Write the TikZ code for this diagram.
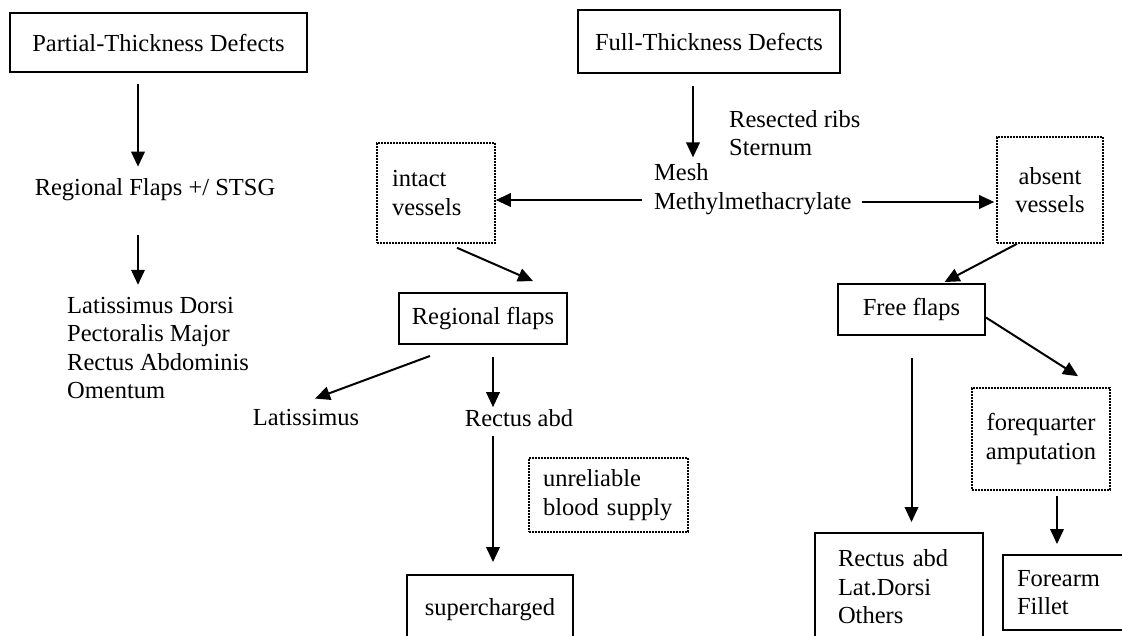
\documentclass[tikz,border=0pt]{standalone}
\usepackage{fontspec}
\setmainfont{Liberation Serif}
\usetikzlibrary{arrows.meta}

\begin{document}
\begin{tikzpicture}[x=1pt, y=-1pt,
    every node/.style={font=\fontsize{24.5}{28.5}\selectfont, inner sep=2pt},
    solidbox/.style={draw, line width=1.9pt, inner sep=0pt, align=center},
    dotbox/.style={draw, line width=1.6pt, dash pattern=on 1.6pt off 1.4pt, inner sep=0pt, align=center},
    arr/.style={line width=2pt, -{Triangle[length=15pt,width=13.5pt]}}]
        \useasboundingbox (0,0) rectangle (1122,636);
        \clip (0,0) rectangle (1122,636);

        % partial thickness column
        \node[solidbox, minimum width=297pt, minimum height=59pt] (ptd) at (158.5,42.5) {Partial-Thickness Defects};
        \node (rfs) at (155,190) {Regional Flaps +/ STSG};
        \node[anchor=west, align=left] (musc) at (65,348) {Latissimus Dorsi\\Pectoralis Major\\Rectus Abdominis\\Omentum};
        \draw[arr, shorten <=11pt, shorten >=10pt] ([xshift=-20.5pt]ptd.south) -- ([xshift=-20.5pt]ptd.south |- rfs.north);
        \draw[arr, shorten <=32pt, shorten >=10pt] ([xshift=-17pt]rfs.south) -- ([xshift=-17pt]rfs.south |- musc.north);

        % full thickness
        \node[solidbox, minimum width=262pt, minimum height=63pt] (ftd) at (709,41.5) {Full-Thickness Defects};
        \node[anchor=west, align=left] (ribs) at (727,133) {Resected ribs\\Sternum};
        \node[anchor=west, align=left] (mesh) at (652,189) {Mesh\\Methylmethacrylate};
        \draw[arr, shorten <=12pt, shorten >=4pt] ([xshift=-16pt]ftd.south) -- ([xshift=-16pt]ftd.south |- mesh.north);

        % vessels
        \node[dotbox, minimum width=118pt, minimum height=100pt, text width=88pt, inner xsep=15pt, align=left] (intact) at (436,193) {intact\\vessels};
        \node[dotbox, minimum width=106pt, minimum height=106pt] (absent) at (1050,190) {absent\\vessels};
        \draw[arr, shorten <=10pt] ([yshift=-11pt]mesh.west) -- ([yshift=-11pt]mesh.west -| intact.east);
        \draw[arr, shorten <=8pt, shorten >=2pt] ([yshift=-13pt]mesh.east) -- ([yshift=-13pt]mesh.east -| absent.west);

        % regional flaps branch
        \node[solidbox, minimum width=168pt, minimum height=51pt] (regflap) at (483,318.5) {Regional flaps};
        \node (lat) at (306,418) {Latissimus};
        \node (rectus) at (519,418) {Rectus abd};
        \node[dotbox, minimum width=159pt, minimum height=74pt, text width=131pt, inner xsep=14pt, align=left] (unrel) at (608.5,495) {unreliable\\blood supply};
        \node[solidbox, minimum width=166pt, minimum height=70pt] (super) at (490,610) {supercharged};
        \draw[arr] ([xshift=21pt,yshift=-4pt]intact.south) -- ([xshift=50pt,yshift=11pt]regflap.north);
        \draw[arr] ([xshift=-53pt,yshift=-11pt]regflap.south) -- ([xshift=9pt,yshift=9pt]lat.north);
        \draw[arr, shorten <=12pt] ([xshift=10pt]regflap.south) -- ([xshift=10pt]regflap.south |- rectus.north);
        \draw[arr, shorten <=7pt, shorten >=12pt] ([xshift=3pt]super.north |- rectus.south) -- ([xshift=3pt]super.north);

        % free flaps branch
        \node[solidbox, minimum width=147pt, minimum height=51pt] (free) at (911.5,309.5) {Free flaps};
        \node[dotbox, minimum width=138pt, minimum height=102pt] (fore) at (1041,439) {forequarter\\amputation};
        \node[solidbox, minimum width=168pt, minimum height=108pt, text width=122pt, inner xsep=23pt, align=left] (others) at (899,587) {Rectus abd\\Lat.Dorsi\\Others};
        \node[solidbox, minimum width=140pt, minimum height=75pt, text width=112pt, inner xsep=14pt, align=left] (forearm) at (1073,592.5) {Forearm\\Fillet};
        \draw[arr] ([xshift=-33pt]absent.south) -- ([xshift=33pt,yshift=1pt]free.north);
        \draw[arr] ([yshift=-8pt]free.east) -- ([xshift=37pt,yshift=11pt]fore.north);
        \draw[arr, shorten <=22pt, shorten >=10pt] (free.south) -- (free.south |- others.north);
        \draw[arr, shorten <=5pt, shorten >=10pt] ([xshift=16pt]fore.south) -- ([xshift=16pt]fore.south |- forearm.north);

    \end{tikzpicture}
\end{document}
